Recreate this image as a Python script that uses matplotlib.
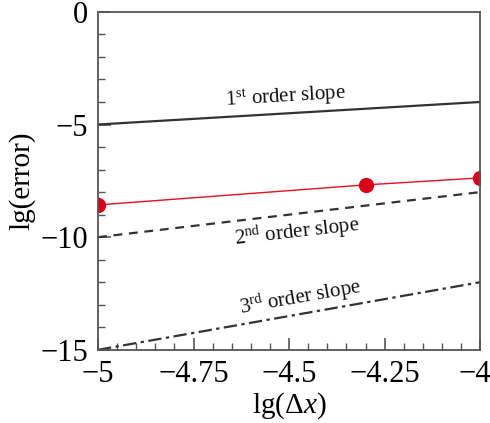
import numpy as np
import matplotlib
matplotlib.use("Agg")
import matplotlib.pyplot as plt
import matplotlib.transforms as mtransforms
from matplotlib.ticker import MultipleLocator

plt.rcParams['font.family'] = ['Liberation Serif', 'DejaVu Serif']
plt.rcParams['mathtext.fontset'] = 'custom'
plt.rcParams['mathtext.rm'] = 'Liberation Serif'
plt.rcParams['mathtext.it'] = 'Liberation Serif:italic'

# data
dx = [-5, -4.3, -4]
err = [-8.57, -7.68, -7.37]
slope_x = [-5, -4]
slope1 = [-5, -4]
slope2 = [-10, -8]
slope3 = [-15, -12]

fig = plt.figure(figsize=(4.9, 4.23), dpi=100)
ax = fig.add_axes([0.2, 0.173, 0.78, 0.799])

ax.plot(slope_x, slope1, color='#333333', lw=1.6, solid_capstyle='butt')
ax.plot(slope_x, slope2, color='#333333', lw=1.6, ls=(0, (4, 3)))
ax.plot(slope_x, slope3, color='#333333', lw=1.6, ls=(0, (6, 2, 1.5, 2)))
ax.plot(dx, err, color='#e8101c', lw=1.0, marker='o', ms=10,
        mfc='#d9001b', mec='#d9001b', zorder=1.5)

ax.text(-4.51, -3.77, r'1$^{\mathregular{st}}$ order slope', fontsize=15,
        ha='center', va='center', rotation=3.5, color='#111111')
ax.text(-4.48, -9.76, r'2$^{\mathregular{nd}}$ order slope', fontsize=15,
        ha='center', va='center', rotation=6.5, color='#111111')
ax.text(-4.47, -12.69, r'3$^{\mathregular{rd}}$ order slope', fontsize=15,
        ha='center', va='center', rotation=10, color='#111111')

ax.set_xlim(-5, -4)
ax.set_ylim(-15, 0)
ax.xaxis.set_major_locator(MultipleLocator(0.25))
ax.xaxis.set_minor_locator(MultipleLocator(0.05))
ax.yaxis.set_major_locator(MultipleLocator(5))
ax.yaxis.set_minor_locator(MultipleLocator(1))
ax.set_xticks([-5, -4.75, -4.5, -4.25, -4])
ax.set_xticklabels(['\u22125', '\u22124.75', '\u22124.5', '\u22124.25', '\u22124'])
ax.set_yticks([0, -5, -10, -15])
ax.set_yticklabels(['0', '\u22125', '\u221210', '\u221215'])
ax.tick_params(which='both', direction='in', top=False, right=False,
               colors='#555555', labelcolor='black', labelsize=22)
ax.tick_params(axis='x', which='major', pad=7)
ax.tick_params(axis='y', which='major', pad=7)
ax.tick_params(which='major', length=9, width=1.2)
ax.tick_params(which='minor', length=5, width=1.0)
for s in ax.spines.values():
    s.set_color('#555555')
    s.set_linewidth(1.3)

# keep the last x tick label inside the canvas
last = ax.get_xticklabels()[-1]
last.set_transform(last.get_transform() +
                   mtransforms.ScaledTranslation(-5 / 100, 0, fig.dpi_scale_trans))

ax.set_xlabel(r'lg($\Delta x$)', fontsize=21, labelpad=1)
ax.set_ylabel('lg(error)', fontsize=21, labelpad=4)

fig.savefig('out.png', dpi=100)
